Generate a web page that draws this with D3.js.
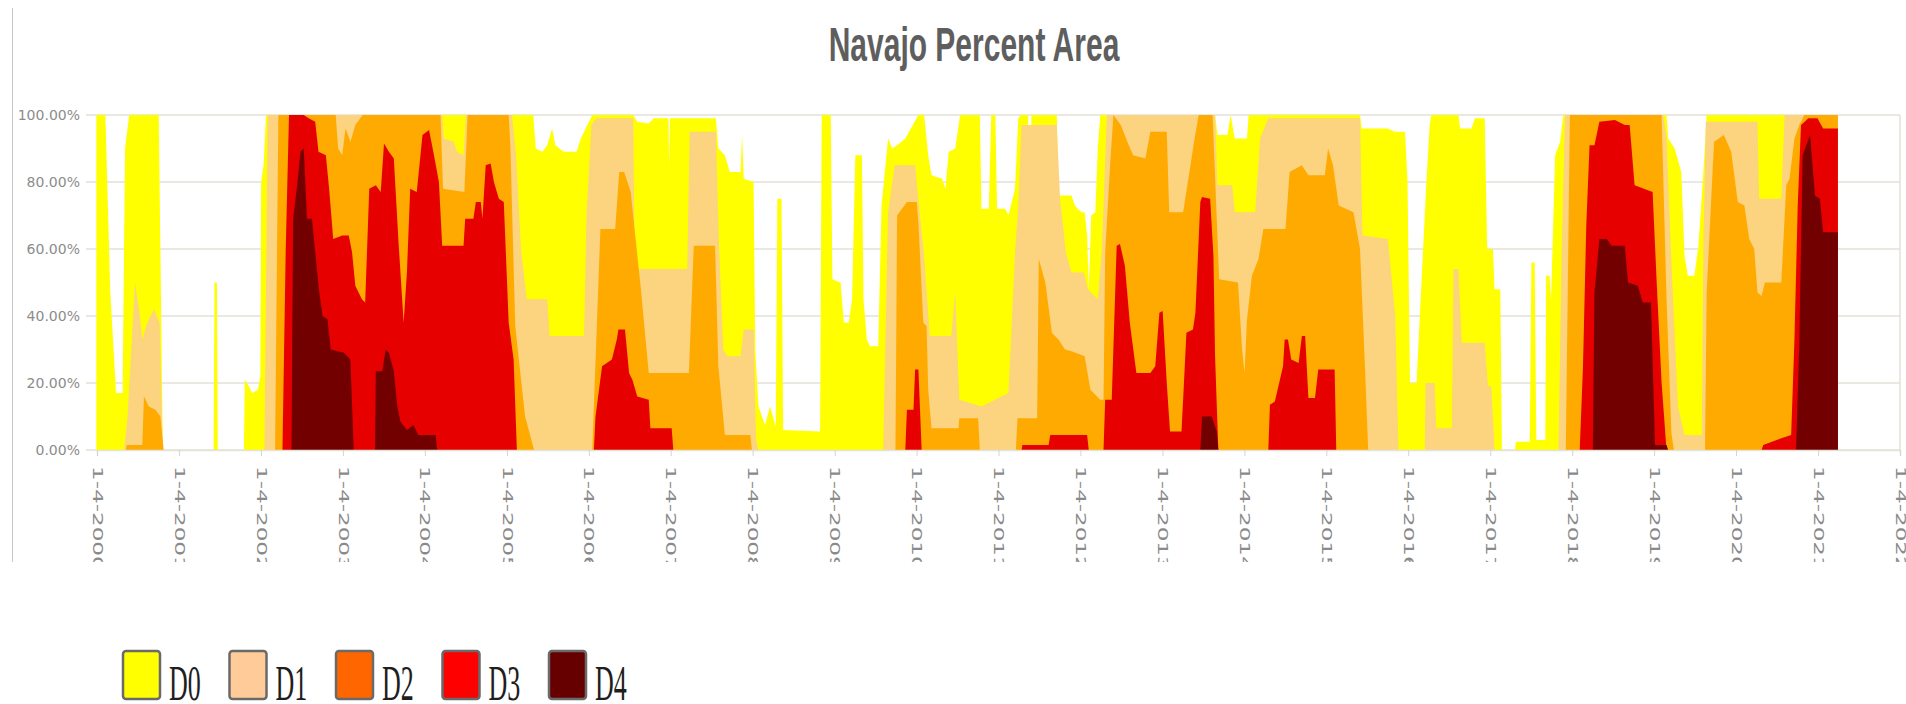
<!DOCTYPE html>
<html>
<head>
<meta charset="utf-8">
<script src="https://cdn.jsdelivr.net/npm/d3@7"></script>
<style>
  body { margin: 0; background: #fff; }
  svg { display: block; }
</style>
</head>
<body>
<div id="chart"></div>
<script>
// Drought categories (cumulative percent of area, D0 = D0 or worse)
const categories = ["D0", "D1", "D2", "D3", "D4"];
const areaColors = ["#ffff00", "#fcd37f", "#ffaa00", "#e60000", "#730000"];
const legendColors = ["#ffff00", "#ffcc99", "#ff6600", "#ff0000", "#660000"];
const yTicks = [0, 20, 40, 60, 80, 100];
const tickYears = [2000, 2001, 2002, 2003, 2004, 2005, 2006, 2007, 2008, 2009, 2010,
  2011, 2012, 2013, 2014, 2015, 2016, 2017, 2018, 2019, 2020, 2021, 2022];

// [decimal year, percent]
const d0 = [
  [2000.00, 100], [2000.11, 100], [2000.17, 47], [2000.24, 17], [2000.32, 17], [2000.35, 90], [2000.40, 100],
  [2000.76, 100], [2000.81, 0],
  [2001.43, 0], [2001.44, 50], [2001.47, 50], [2001.48, 0],
  [2001.80, 0], [2001.81, 21], [2001.86, 19], [2001.90, 17], [2001.97, 18], [2002.00, 22], [2002.01, 80],
  [2002.04, 85], [2002.07, 100],
  [2005.33, 100], [2005.36, 90], [2005.44, 89], [2005.50, 91], [2005.56, 96], [2005.60, 91], [2005.70, 89],
  [2005.86, 89], [2005.91, 93], [2005.97, 96], [2006.05, 100],
  [2006.55, 100], [2006.60, 98], [2006.74, 97.5], [2006.80, 99], [2006.98, 99], [2006.99, 85], [2007.00, 99],
  [2007.56, 99], [2007.59, 90], [2007.67, 88], [2007.73, 83], [2007.86, 83], [2007.88, 94], [2007.90, 81],
  [2008.02, 80], [2008.04, 30], [2008.08, 13], [2008.16, 7.5], [2008.22, 13], [2008.29, 7], [2008.31, 75],
  [2008.36, 75], [2008.38, 6], [2008.83, 5.5],
  [2008.85, 100], [2008.96, 100], [2008.98, 51], [2009.08, 50], [2009.12, 38], [2009.18, 38], [2009.22, 45],
  [2009.26, 88], [2009.34, 88], [2009.36, 45], [2009.40, 33], [2009.44, 31], [2009.54, 31], [2009.58, 73],
  [2009.66, 93], [2009.71, 90], [2009.77, 91], [2009.87, 93], [2010.03, 100], [2010.10, 100], [2010.15, 88],
  [2010.19, 82], [2010.32, 81], [2010.36, 78], [2010.40, 89], [2010.48, 90], [2010.54, 100], [2010.78, 100],
  [2010.80, 72], [2010.89, 72], [2010.92, 100], [2010.97, 100], [2010.99, 72], [2011.09, 72], [2011.13, 70],
  [2011.21, 78], [2011.25, 99], [2011.28, 100], [2011.37, 100], [2011.39, 68], [2011.41, 100], [2011.72, 100],
  [2011.74, 76], [2011.90, 76], [2011.94, 73], [2012.02, 71], [2012.06, 71], [2012.09, 64], [2012.11, 48],
  [2012.14, 70], [2012.19, 71], [2012.22, 90], [2012.25, 100],
  [2013.65, 100], [2013.68, 94], [2013.80, 94], [2013.84, 100], [2013.89, 93], [2014.04, 93], [2014.06, 100],
  [2015.42, 100], [2015.44, 96], [2015.76, 96], [2015.84, 95], [2015.97, 95], [2016.00, 80], [2016.03, 20],
  [2016.11, 20], [2016.17, 50], [2016.23, 80], [2016.27, 97], [2016.29, 100], [2016.62, 100], [2016.64, 96],
  [2016.78, 96], [2016.82, 99], [2016.94, 99], [2016.97, 60], [2017.04, 60], [2017.06, 48], [2017.13, 48],
  [2017.15, 0],
  [2017.31, 0], [2017.32, 2.5], [2017.49, 2.5], [2017.51, 56], [2017.55, 56], [2017.57, 3], [2017.68, 3],
  [2017.69, 52], [2017.73, 52], [2017.75, 45], [2017.80, 88], [2017.86, 92], [2017.90, 100],
  [2019.16, 100], [2019.18, 93], [2019.26, 90], [2019.34, 83], [2019.38, 58], [2019.42, 52], [2019.50, 52],
  [2019.55, 61], [2019.61, 83], [2019.65, 100], [2021.25, 100]
];

const d1 = [
  [2000.34, 0], [2000.38, 10], [2000.47, 50], [2000.52, 42], [2000.56, 33], [2000.62, 38], [2000.70, 42],
  [2000.77, 38], [2000.81, 0],
  [2002.05, 0], [2002.09, 100], [2004.22, 100], [2004.24, 93], [2004.36, 92], [2004.40, 89], [2004.48, 88],
  [2004.51, 100], [2005.07, 100], [2005.12, 88], [2005.18, 60], [2005.25, 45], [2005.50, 45], [2005.53, 34],
  [2005.95, 34], [2005.98, 70], [2006.04, 97], [2006.10, 99], [2006.55, 99], [2006.57, 54], [2007.21, 54],
  [2007.24, 95], [2007.56, 95], [2007.60, 60], [2007.65, 30], [2007.70, 28], [2007.86, 28], [2007.90, 36],
  [2008.02, 36], [2008.05, 3], [2008.08, 0],
  [2009.60, 0], [2009.66, 71], [2009.74, 85], [2009.99, 85], [2010.02, 77], [2010.10, 58], [2010.17, 34],
  [2010.43, 34], [2010.48, 47], [2010.53, 15], [2010.80, 13], [2011.13, 17], [2011.21, 59], [2011.25, 73],
  [2011.29, 97], [2011.72, 97], [2011.76, 75], [2011.83, 59], [2011.90, 53], [2012.05, 53], [2012.10, 48],
  [2012.22, 45], [2012.27, 60], [2012.33, 100],
  [2013.65, 100], [2013.68, 79], [2013.86, 79], [2013.89, 71], [2014.14, 71], [2014.20, 93], [2014.30, 99],
  [2015.42, 99], [2015.45, 64], [2015.76, 63], [2015.85, 40], [2015.89, 0],
  [2016.21, 0], [2016.22, 20], [2016.33, 20], [2016.35, 6.5], [2016.54, 6.5], [2016.56, 54], [2016.62, 54],
  [2016.66, 32], [2016.94, 32], [2016.98, 19], [2017.02, 19], [2017.06, 0],
  [2017.84, 0], [2017.88, 60], [2017.92, 100], [2019.12, 100], [2019.16, 93], [2019.22, 56], [2019.30, 13],
  [2019.38, 4.5], [2019.59, 4.5], [2019.61, 60], [2019.64, 98], [2020.27, 98], [2020.29, 75], [2020.56, 75],
  [2020.60, 100], [2021.25, 100]
];

const d2 = [
  [2000.36, 0], [2000.37, 1.5], [2000.56, 1.5], [2000.58, 16], [2000.64, 13], [2000.72, 12], [2000.78, 10],
  [2000.82, 0],
  [2002.18, 0], [2002.22, 100], [2002.92, 100], [2002.95, 90], [2003.00, 88], [2003.04, 96], [2003.10, 92],
  [2003.16, 97], [2003.25, 100], [2004.20, 100], [2004.23, 78], [2004.49, 77], [2004.53, 100], [2005.03, 100],
  [2005.05, 91], [2005.11, 37], [2005.23, 10], [2005.34, 0],
  [2006.05, 0], [2006.15, 66], [2006.33, 66], [2006.38, 83], [2006.44, 83], [2006.52, 77], [2006.64, 49],
  [2006.74, 23], [2007.23, 23], [2007.29, 61], [2007.55, 61], [2007.59, 25], [2007.67, 4.5], [2007.98, 4.5],
  [2008.00, 0],
  [2009.75, 0], [2009.77, 70], [2009.89, 74], [2010.01, 74], [2010.03, 68], [2010.09, 38], [2010.13, 37],
  [2010.15, 18], [2010.19, 6.5], [2010.52, 6.5], [2010.53, 9.5], [2010.76, 9.5], [2010.78, 0],
  [2011.22, 0], [2011.24, 9.5], [2011.48, 9.5], [2011.50, 57], [2011.58, 50], [2011.66, 35], [2011.74, 33],
  [2011.82, 30], [2011.90, 29.5], [2012.06, 28], [2012.13, 18], [2012.25, 15], [2012.29, 15], [2012.31, 59],
  [2012.37, 85], [2012.41, 100], [2012.50, 97], [2012.58, 92], [2012.65, 88], [2012.80, 87], [2012.86, 95],
  [2013.06, 95], [2013.09, 71], [2013.26, 71], [2013.40, 93], [2013.45, 100], [2013.62, 100], [2013.70, 51],
  [2013.93, 50], [2013.98, 30], [2014.01, 23], [2014.04, 39], [2014.10, 52], [2014.18, 57], [2014.24, 66],
  [2014.51, 66], [2014.56, 83], [2014.71, 85], [2014.79, 82], [2014.99, 82], [2015.03, 90], [2015.09, 85],
  [2015.16, 73], [2015.34, 71], [2015.42, 60], [2015.48, 25], [2015.52, 0],
  [2017.93, 0], [2017.98, 100], [2019.10, 100], [2019.16, 45], [2019.22, 5], [2019.25, 0],
  [2019.63, 0], [2019.65, 47], [2019.74, 92], [2019.86, 94], [2019.95, 89], [2020.03, 74], [2020.11, 73],
  [2020.17, 63], [2020.23, 60], [2020.27, 47], [2020.32, 46], [2020.36, 50], [2020.56, 50], [2020.62, 79],
  [2020.66, 81], [2020.72, 93], [2020.78, 97], [2020.84, 100], [2021.25, 100]
];

const d3v = [
  [2002.27, 0], [2002.31, 60], [2002.35, 100], [2002.53, 100], [2002.59, 99], [2002.67, 98], [2002.71, 89],
  [2002.80, 88], [2002.84, 78], [2002.89, 63], [2003.00, 64], [2003.08, 64], [2003.12, 59], [2003.16, 49],
  [2003.24, 45], [2003.28, 44], [2003.33, 78], [2003.41, 79], [2003.47, 77], [2003.51, 91.5], [2003.57, 89],
  [2003.63, 87], [2003.69, 61], [2003.75, 38], [2003.79, 53], [2003.83, 78], [2003.91, 77], [2003.98, 94],
  [2004.06, 95.5], [2004.12, 88], [2004.18, 80], [2004.22, 61], [2004.48, 61], [2004.50, 69], [2004.60, 69],
  [2004.63, 74], [2004.69, 74], [2004.71, 69], [2004.75, 85], [2004.81, 85.5], [2004.85, 80], [2004.91, 75],
  [2004.97, 74], [2005.03, 38], [2005.09, 27], [2005.13, 0],
  [2006.07, 0], [2006.09, 10], [2006.17, 25], [2006.29, 27], [2006.35, 33], [2006.37, 36], [2006.45, 36],
  [2006.50, 23], [2006.54, 21], [2006.60, 16], [2006.74, 15], [2006.76, 6.5], [2007.02, 6.5], [2007.04, 0],
  [2009.87, 0], [2009.89, 12], [2009.97, 12], [2009.99, 24], [2010.03, 24], [2010.07, 0],
  [2011.29, 0], [2011.30, 1.5], [2011.62, 1.5], [2011.64, 4.5], [2012.09, 4.5], [2012.11, 0],
  [2012.29, 0], [2012.31, 15], [2012.39, 15], [2012.45, 61], [2012.49, 61.5], [2012.55, 55], [2012.61, 38],
  [2012.69, 23], [2012.86, 23], [2012.92, 25], [2012.97, 41], [2013.01, 41.5], [2013.06, 20], [2013.10, 5.5],
  [2013.24, 5.5], [2013.27, 20], [2013.30, 35], [2013.38, 36], [2013.41, 41], [2013.45, 63], [2013.47, 74],
  [2013.49, 75.5], [2013.59, 75], [2013.63, 58], [2013.65, 28], [2013.69, 0],
  [2014.30, 0], [2014.32, 13.5], [2014.38, 14.5], [2014.48, 25], [2014.50, 33], [2014.54, 33], [2014.58, 27],
  [2014.67, 26], [2014.71, 34], [2014.75, 34], [2014.79, 15.5], [2014.87, 15.5], [2014.91, 24], [2015.11, 24],
  [2015.13, 0],
  [2018.10, 0], [2018.14, 25], [2018.18, 67], [2018.22, 91], [2018.28, 91], [2018.34, 98], [2018.53, 98.5],
  [2018.65, 97], [2018.71, 97], [2018.77, 79], [2018.99, 77], [2019.04, 50], [2019.10, 20], [2019.16, 0],
  [2020.32, 0], [2020.34, 1.5], [2020.56, 3.5], [2020.68, 4.5], [2020.72, 33], [2020.76, 73], [2020.80, 97],
  [2020.89, 99], [2021.00, 99], [2021.07, 96], [2021.25, 96]
];

const d4 = [
  [2002.38, 0], [2002.40, 69], [2002.45, 79], [2002.49, 89], [2002.53, 90], [2002.57, 69], [2002.63, 69],
  [2002.72, 47], [2002.76, 40], [2002.82, 39], [2002.86, 30], [2003.02, 29], [2003.10, 27], [2003.14, 0],
  [2003.40, 0], [2003.41, 23.5], [2003.49, 23.5], [2003.53, 30], [2003.57, 29], [2003.63, 23.5],
  [2003.67, 13.5], [2003.71, 8.5], [2003.79, 6], [2003.87, 7.5], [2003.93, 4.5], [2004.14, 4.5], [2004.16, 0],
  [2013.47, 0], [2013.49, 10], [2013.61, 10], [2013.67, 5.5], [2013.69, 0],
  [2018.26, 0], [2018.28, 47], [2018.34, 63], [2018.43, 63], [2018.49, 61], [2018.65, 61], [2018.69, 50],
  [2018.81, 49], [2018.87, 44], [2018.97, 44], [2019.02, 1.5], [2019.16, 1.5], [2019.18, 0],
  [2020.74, 0], [2020.78, 33], [2020.82, 88], [2020.91, 94], [2020.97, 76], [2021.03, 75], [2021.07, 65],
  [2021.25, 65]
];

const series = [d0, d1, d2, d3v, d4];

const width = 1906;
const height = 704;
const margin = { top: 115, right: 6, bottom: 254, left: 97 };
const plotRight = width - margin.right;
const plotBottom = height - margin.bottom;
const frameBottom = 562; // the chart box cuts the axis labels here

// decimal year -> Date
const toDate = (t) => {
  const yr = Math.floor(t);
  const a = new Date(yr, 0, 1);
  const b = new Date(yr + 1, 0, 1);
  return new Date(+a + (t - yr) * (b - a));
};

const tickDates = tickYears.map((yr) => new Date(yr, 0, 4));

const x = d3
  .scaleTime()
  .domain([tickDates[0], tickDates[tickDates.length - 1]])
  .range([margin.left, plotRight]);

const y = d3.scaleLinear().domain([0, 100]).range([plotBottom, margin.top]);

const svg = d3.select("#chart").append("svg").attr("width", width).attr("height", height);

svg
  .append("defs")
  .append("clipPath")
  .attr("id", "frame")
  .append("rect")
  .attr("x", 0)
  .attr("y", 0)
  .attr("width", width)
  .attr("height", frameBottom);

const chart = svg.append("g").attr("clip-path", "url(#frame)");

// left edge of the chart box
svg
  .append("line")
  .attr("x1", 12.5)
  .attr("x2", 12.5)
  .attr("y1", 8)
  .attr("y2", frameBottom)
  .attr("stroke", "#c8c8c8");

// Title
chart
  .append("text")
  .attr("transform", "translate(974,61) scale(1,1.58)")
  .attr("text-anchor", "middle")
  .attr("font-family", "'Liberation Sans', Arial, sans-serif")
  .attr("font-weight", "bold")
  .attr("font-size", 30)
  .attr("fill", "#5e5e5e")
  .text("Navajo Percent Area");

// Gridlines
chart
  .append("g")
  .selectAll("line")
  .data(yTicks)
  .join("line")
  .attr("x1", margin.left - 11)
  .attr("x2", plotRight)
  .attr("y1", (d) => y(d))
  .attr("y2", (d) => y(d))
  .attr("stroke", "#e4e1d7")
  .attr("stroke-width", 1.5);

chart
  .append("line")
  .attr("x1", plotRight)
  .attr("x2", plotRight)
  .attr("y1", y(100))
  .attr("y2", y(0))
  .attr("stroke", "#e4e1d7")
  .attr("stroke-width", 1.5);

// Areas, D0 first so the worse categories sit on top
const area = d3
  .area()
  .x((d) => x(toDate(d[0])))
  .y0(y(0))
  .y1((d) => y(d[1]));

chart
  .append("g")
  .selectAll("path")
  .data(series)
  .join("path")
  .attr("d", area)
  .attr("fill", (d, i) => areaColors[i]);

// Y labels
chart
  .append("g")
  .selectAll("text")
  .data(yTicks)
  .join("text")
  .attr("x", margin.left - 17)
  .attr("y", (d) => y(d))
  .attr("dy", "0.35em")
  .attr("text-anchor", "end")
  .attr("font-family", "'DejaVu Sans', Verdana, sans-serif")
  .attr("font-size", 14)
  .attr("fill", "#8c8c8c")
  .text((d) => d.toFixed(2) + "%");

// X axis
const xAxis = d3
  .axisBottom(x)
  .tickValues(tickDates)
  .tickSize(6)
  .tickPadding(0)
  .tickFormat(d3.timeFormat("%-m-%-d-%Y"));

const gx = chart.append("g").attr("transform", `translate(0,${plotBottom})`).call(xAxis);
gx.select(".domain").attr("stroke", "#e4e1d7").attr("stroke-width", 1.5);
gx.selectAll(".tick line").attr("stroke", "#d4d4d4");
gx.selectAll(".tick text")
  .attr("transform", "translate(0,16) rotate(90) scale(1.65,1)")
  .attr("x", 0)
  .attr("y", 0)
  .attr("dy", "0.35em")
  .attr("text-anchor", "start")
  .attr("font-family", "'DejaVu Sans', Verdana, sans-serif")
  .attr("font-size", 14)
  .attr("fill", "#8a8a8a");

// Legend
const legend = svg
  .append("g")
  .selectAll("g")
  .data(categories)
  .join("g")
  .attr("transform", (d, i) => `translate(${123 + i * 106.5},651)`);

legend
  .append("rect")
  .attr("width", 37)
  .attr("height", 48)
  .attr("rx", 3)
  .attr("fill", (d, i) => legendColors[i])
  .attr("stroke", "#6a6a6a")
  .attr("stroke-width", 2.5);

legend
  .append("text")
  .attr("transform", "translate(46,49) scale(1,1.92)")
  .attr("font-family", "'Liberation Serif', 'Times New Roman', serif")
  .attr("font-size", 26)
  .attr("fill", "#1e1e1e")
  .text((d) => d);
</script>
</body>
</html>
